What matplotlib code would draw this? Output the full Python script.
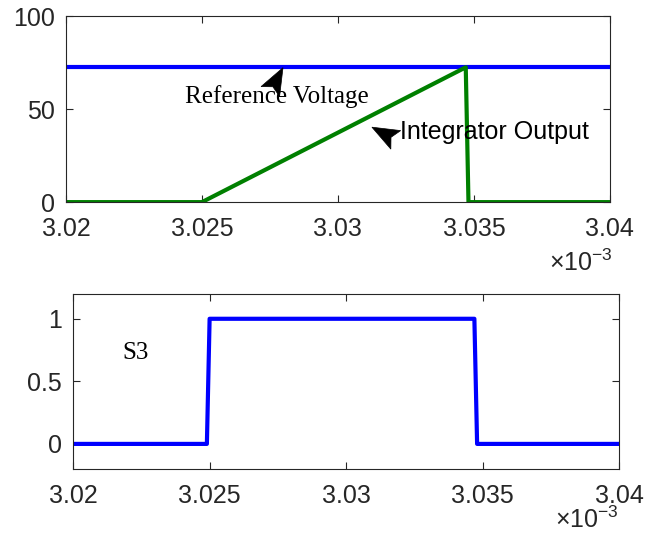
import numpy as np
import matplotlib
matplotlib.use("Agg")
import matplotlib.pyplot as plt
from matplotlib.patches import Polygon
from matplotlib import transforms

plt.rcParams["font.family"] = ["Liberation Sans", "DejaVu Sans"]
plt.rcParams["mathtext.fontset"] = "custom"
plt.rcParams["mathtext.rm"] = "Liberation Sans"
plt.rcParams["mathtext.it"] = "Liberation Sans"

# time in units of 1e-3 s (axis shows x10^-3)
t_ref = [3.02, 3.04]
v_ref = [72.5, 72.5]

t_int = [3.02, 3.025, 3.0347, 3.0348, 3.04]
v_int = [0, 0, 72.5, 0, 0]

t_s3 = [3.02, 3.0249, 3.025, 3.0347, 3.0348, 3.04]
v_s3 = [0, 0, 1, 1, 0, 0]

x_ticks = [3.02, 3.025, 3.03, 3.035, 3.04]
x_labels = ["3.02", "3.025", "3.03", "3.035", "3.04"]

BLUE = "#0000ff"
GREEN = "#008000"
AX_COL = "#262626"
FS = 18

fig = plt.figure(figsize=(6.53, 5.39), dpi=100)
ax1 = fig.add_axes([0.101, 0.625, 0.833, 0.345])
ax2 = fig.add_axes([0.112, 0.130, 0.836, 0.325])


def style(ax):
    for s in ax.spines.values():
        s.set_color(AX_COL)
        s.set_linewidth(0.8)
    ax.tick_params(direction="in", length=5, width=0.8, colors=AX_COL,
                   labelcolor="#262626", labelsize=FS, top=True, right=True)
    ax.tick_params(axis="x", pad=11)
    ax.tick_params(axis="y", pad=8)
    ax.set_xlim(3.02, 3.04)
    ax.set_xticks(x_ticks)
    ax.set_xticklabels(x_labels)


def arrow_head(ax, tip, angle, length=27, width=21):
    # matlab style "vback2" head, sized in pixels
    L, W = length / 100, width / 100
    verts = [(0, 0), (-L, W / 2), (-0.8 * L, 0), (-L, -W / 2)]
    tr = (transforms.Affine2D().rotate_deg(angle) + fig.dpi_scale_trans
          + transforms.ScaledTranslation(tip[0], tip[1], ax.transData))
    ax.add_patch(Polygon(verts, closed=True, facecolor="black",
                         edgecolor="black", lw=0.5, transform=tr, zorder=5))


# ---- top: integrator vs reference ----
ax1.plot(t_ref, v_ref, color=BLUE, lw=3)
ax1.plot(t_int, v_int, color=GREEN, lw=3)
ax1.set_ylim(0, 100)
ax1.set_yticks([0, 50, 100])
style(ax1)

arrow_head(ax1, (3.02798, 72.3), 62)
ax1.text(3.02437, 57, "Reference Voltage", family="Liberation Serif",
         fontsize=FS, ha="left", va="center")
arrow_head(ax1, (3.03125, 40.3), 152)
ax1.text(3.03228, 37.6, "Integrator Output", fontsize=FS, ha="left", va="center")

# ---- bottom: switch S3 ----
ax2.plot(t_s3, v_s3, color=BLUE, lw=3)
ax2.set_ylim(-0.2, 1.2)
ax2.set_yticks([0, 0.5, 1])
ax2.set_yticklabels(["0", "0.5", "1"])
style(ax2)
ax2.text(3.0218, 0.73, "S3", family="Liberation Serif", fontsize=FS,
         ha="left", va="center")

fig.text(0.938, 0.512, r"$\times10^{-3}$", fontsize=FS, ha="right", va="center",
         color="#262626")
fig.text(0.947, 0.035, r"$\times10^{-3}$", fontsize=FS, ha="right", va="center",
         color="#262626")

fig.savefig("out.png", dpi=100)
